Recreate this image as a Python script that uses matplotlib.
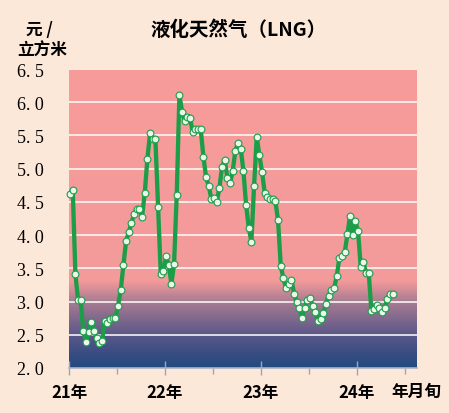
import matplotlib
matplotlib.use('Agg')
import matplotlib.pyplot as plt
from matplotlib.colors import LinearSegmentedColormap
import numpy as np

# LNG 价格，按旬（每年36旬），从21年1月上旬开始
prices = [
    4.62, 4.68, 3.41, 3.02, 3.02, 2.55, 2.39, 2.54, 2.69, 2.56,
    2.45, 2.37, 2.41, 2.70, 2.68, 2.74, 2.75, 2.75, 2.94, 3.17,
    3.55, 3.91, 4.04, 4.18, 4.32, 4.40, 4.40, 4.28, 4.63, 5.15,
    5.53, 5.44, 5.44, 4.43, 3.42, 3.46, 3.68, 3.55, 3.27, 3.57,
    4.61, 6.11, 5.86, 5.71, 5.78, 5.76, 5.55, 5.59, 5.60, 5.59,
    5.18, 4.87, 4.74, 4.54, 4.56, 4.50, 4.71, 5.03, 5.13, 4.86,
    4.78, 4.97, 5.27, 5.39, 5.30, 4.97, 4.46, 4.11, 3.90, 4.74,
    5.48, 5.20, 4.95, 4.63, 4.58, 4.55, 4.54, 4.51, 4.22, 3.54,
    3.35, 3.20, 3.26, 3.33, 3.12, 2.99, 2.90, 2.75, 2.91, 3.03,
    3.05, 2.94, 2.84, 2.71, 2.73, 2.83, 2.97, 3.09, 3.17, 3.20,
    3.38, 3.66, 3.69, 3.74, 4.01, 4.29, 4.00, 4.21, 4.06, 3.52,
    3.60, 3.43, 3.43, 2.86, 2.89, 2.95, 2.91, 2.85, 2.91, 3.04,
    3.12, 3.12,
]
year_labels = ['21年', '22年', '23年', '24年']
y_ticks = [2.0, 2.5, 3.0, 3.5, 4.0, 4.5, 5.0, 5.5, 6.0, 6.5]

cjk = ['Noto Sans CJK SC', 'DejaVu Sans']
num_font = 'Liberation Serif'

fig = plt.figure(figsize=(4.49, 4.14), dpi=100)
fig.patch.set_facecolor('#fce8d9')
ax = fig.add_axes([0.1537, 0.1087, 0.775, 0.7222])

xmax = 130.5
ymin, ymax = 2.0, 6.5

# fond en dégradé (rose en haut, bleu foncé en bas)
grad = LinearSegmentedColormap.from_list('bg', [
    (0.0, '#234a7e'),
    (0.045, '#384d82'),
    (0.111, '#5c5889'),
    (0.222, '#aa7c92'),
    (0.29, '#f39a9a'),
    (1.0, '#f89c9b'),
])
vals = np.linspace(0, 1, 400).reshape(-1, 1)
ax.imshow(vals, cmap=grad, origin='lower', aspect='auto',
          extent=[0, xmax, ymin, ymax], zorder=0)

for v in y_ticks[1:]:
    ax.axhline(v, color='white', lw=1.1, zorder=1)

x = np.arange(len(prices)) + 0.4
ax.plot(x, prices, color='#1c9e48', lw=3.1, zorder=3, clip_on=False,
        marker='o', markersize=4.9, markerfacecolor='#eaf7ec',
        markeredgecolor='#1c9e48', markeredgewidth=0.8)

ax.set_xlim(0, xmax)
ax.set_ylim(ymin, ymax)

ax.set_xticks([0, 36, 72, 108])
ax.set_xticklabels(year_labels)
ax.set_xticks([18, 54, 90, 126], minor=True)
ax.tick_params(axis='x', which='major', direction='inout', length=10,
               color='#9aa6ba', width=1, pad=6)
ax.tick_params(axis='x', which='minor', direction='out', length=4,
               color='#9aa6ba', width=1)
for lbl in ax.get_xticklabels():
    lbl.set_family(cjk)
    lbl.set_fontsize(12)
    lbl.set_fontweight('bold')

ax.set_yticks(y_ticks)
ax.set_yticklabels([f'{v:.1f}'.replace('.', '. ') for v in y_ticks],
                   family=num_font, fontsize=13)
ax.tick_params(axis='y', length=0, pad=18)

for side in ['top', 'right', 'left']:
    ax.spines[side].set_visible(False)
ax.spines['bottom'].set_color('#aab3c4')
ax.spines['bottom'].set_linewidth(1.2)

fig.text(0.532, 0.927, '液化天然气（LNG）', family=cjk, fontsize=14,
         fontweight='bold', ha='center', va='center')
fig.text(0.087, 0.928, '元 /', family=cjk, fontsize=12, fontweight='bold',
         ha='center', va='center')
fig.text(0.094, 0.877, '立方米', family=cjk, fontsize=12, fontweight='bold',
         ha='center', va='center')
fig.text(0.928, 0.053, '年月旬', family=cjk, fontsize=12, fontweight='bold',
         ha='center', va='center')

fig.savefig('out.png', dpi=100, facecolor=fig.get_facecolor())
